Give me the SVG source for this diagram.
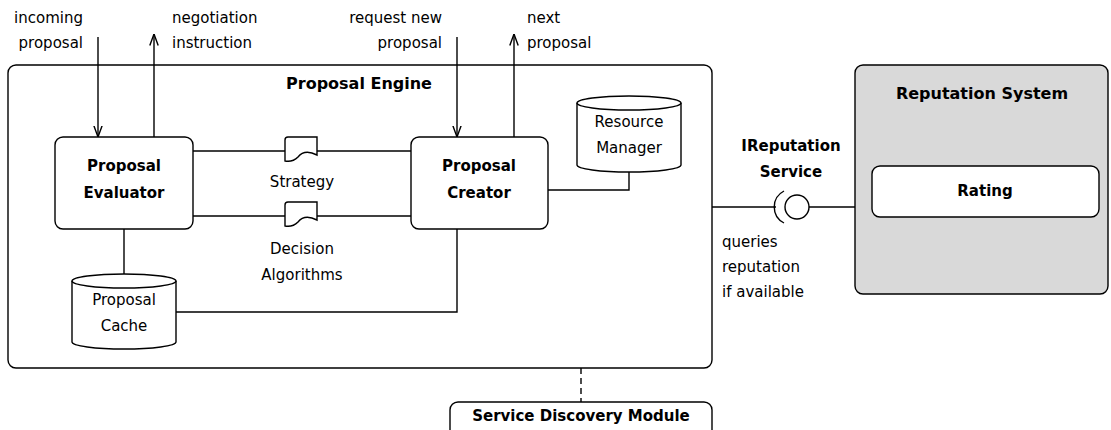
<svg xmlns="http://www.w3.org/2000/svg" width="1111" height="430" viewBox="0 0 1111 430">
<style>
.t{font-family:"DejaVu Sans",sans-serif;font-size:15px;fill:#000}
.b{font-family:"DejaVu Sans",sans-serif;font-size:15px;font-weight:bold;fill:#000}
.h{font-family:"DejaVu Sans",sans-serif;font-size:16px;font-weight:bold;fill:#000}
.box{fill:#fff;stroke:#000;stroke-width:1.4}
.ln{fill:none;stroke:#000;stroke-width:1.4}
.m{text-anchor:middle}
.e{text-anchor:end}
</style>
<defs>
<marker id="arr" viewBox="0 0 12 12" refX="11.5" refY="6" markerWidth="12" markerHeight="12" markerUnits="userSpaceOnUse" orient="auto">
<path d="M0,1.8 L11.5,6 L0,10.2" fill="none" stroke="#000" stroke-width="1.4"/>
</marker>
</defs>
<rect width="1111" height="430" fill="#fff"/>

<g id="proposal-engine">
<rect class="box" x="8" y="65" width="704" height="303" rx="8"/>
<text class="h m" x="359" y="89">Proposal Engine</text>
</g>

<g id="reputation-system">
<rect x="855" y="65" width="253" height="229" rx="8" fill="#d9d9d9" stroke="#000" stroke-width="1.4"/>
<text class="h m" x="982" y="99">Reputation System</text>
</g>

<g id="rating">
<rect class="box" x="872" y="166" width="227" height="51" rx="8"/>
<text class="b m" x="985" y="196">Rating</text>
</g>

<g id="service-discovery">
<rect class="box" x="450" y="402" width="262" height="40" rx="8"/>
<text class="b m" x="581" y="421">Service Discovery Module</text>
</g>

<g id="connectors">
<line class="ln" x1="98" y1="37" x2="98" y2="137" marker-end="url(#arr)"/>
<line class="ln" x1="154" y1="137" x2="154" y2="34" marker-end="url(#arr)"/>
<line class="ln" x1="457" y1="37" x2="457" y2="137" marker-end="url(#arr)"/>
<line class="ln" x1="514" y1="137" x2="514" y2="34" marker-end="url(#arr)"/>
<line class="ln" x1="193" y1="151" x2="285" y2="151"/>
<line class="ln" x1="317" y1="151" x2="411" y2="151"/>
<line class="ln" x1="193" y1="216" x2="285" y2="216"/>
<line class="ln" x1="317" y1="216" x2="411" y2="216"/>
<line class="ln" x1="124" y1="229" x2="124" y2="274"/>
<polyline class="ln" points="176,312 457,312 457,229"/>
<polyline class="ln" points="629,172 629,190 548,190"/>
<line class="ln" x1="712" y1="207" x2="776" y2="207"/>
<line class="ln" x1="809" y1="207" x2="855" y2="207"/>
<line class="ln" x1="581" y1="368" x2="581" y2="402" stroke-dasharray="6,4"/>
</g>

<g id="incoming-labels">
<text class="t e" x="83" y="23">incoming</text>
<text class="t e" x="83" y="48">proposal</text>
<text class="t" x="172" y="23">negotiation</text>
<text class="t" x="172" y="48">instruction</text>
<text class="t e" x="442" y="23">request new</text>
<text class="t e" x="442" y="48">proposal</text>
<text class="t" x="527" y="23">next</text>
<text class="t" x="527" y="48">proposal</text>
</g>

<g id="proposal-evaluator">
<rect class="box" x="55" y="137" width="138" height="92" rx="8"/>
<text class="b m" x="124" y="171">Proposal</text>
<text class="b m" x="124" y="198">Evaluator</text>
</g>

<g id="proposal-creator">
<rect class="box" x="411" y="137" width="137" height="92" rx="8"/>
<text class="b m" x="479" y="171">Proposal</text>
<text class="b m" x="479" y="198">Creator</text>
</g>

<g id="strategy">
<path class="box" d="M288,137 H317 V155 C309,151 302,152 298,157 C294,161 290,162 285,161 V140 Q285,137 288,137 Z"/>
<text class="t m" x="302" y="187">Strategy</text>
</g>

<g id="decision-algorithms">
<path class="box" d="M288,202 H317 V220 C309,216 302,217 298,222 C294,226 290,227 285,226 V205 Q285,202 288,202 Z"/>
<text class="t m" x="302" y="254">Decision</text>
<text class="t m" x="302" y="280">Algorithms</text>
</g>

<g id="resource-manager">
<path class="box" d="M577,103 V165 A52,7 0 0 0 681,165 V103 A52,7 0 0 0 577,103 Z"/>
<path class="ln" d="M577,103 A52,7 0 0 0 681,103"/>
<text class="t m" x="629" y="127">Resource</text>
<text class="t m" x="629" y="153">Manager</text>
</g>

<g id="proposal-cache">
<path class="box" d="M72,281 V342 A52,7 0 0 0 176,342 V281 A52,7 0 0 0 72,281 Z"/>
<path class="ln" d="M72,281 A52,7 0 0 0 176,281"/>
<text class="t m" x="124" y="305">Proposal</text>
<text class="t m" x="124" y="331">Cache</text>
</g>

<g id="ireputation-service">
<circle class="box" cx="797" cy="207" r="12"/>
<path class="ln" d="M784,191 A18,18 0 0 0 784,223"/>
<text class="b m" x="791" y="151">IReputation</text>
<text class="b m" x="791" y="177">Service</text>
<text class="t" x="722" y="247">queries</text>
<text class="t" x="722" y="272">reputation</text>
<text class="t" x="722" y="297">if available</text>
</g>
</svg>
